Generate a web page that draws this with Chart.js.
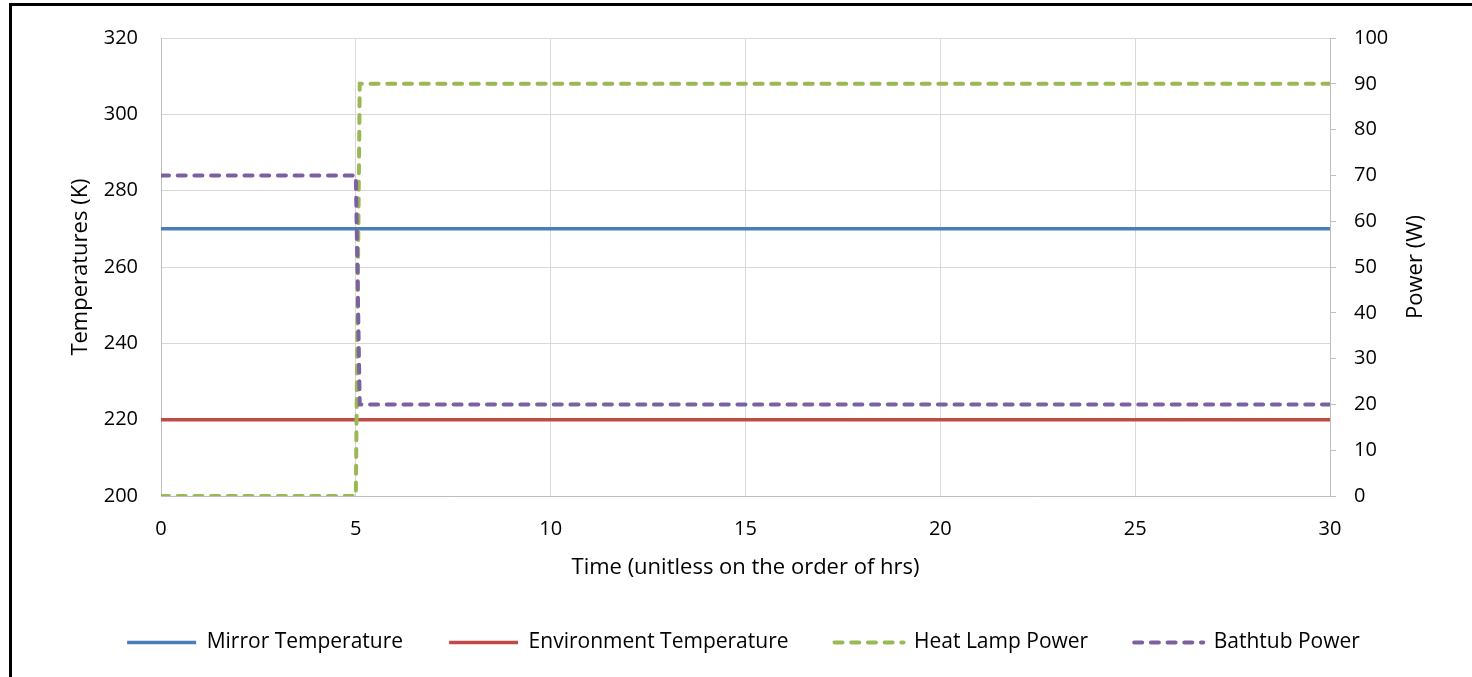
<!DOCTYPE html>
<html>
<head>
<meta charset="utf-8">
<script src="https://cdn.jsdelivr.net/npm/chart.js@4/dist/chart.umd.min.js"></script>
<style>
  html, body { margin: 0; padding: 0; background: #fff; overflow: hidden; }
  #frame { position: absolute; left: 9px; top: 3px; width: 1500px; height: 720px; border: 3px solid #000; }
  #wrap { position: absolute; left: 0; top: 0; width: 1472px; height: 677px; }
</style>
</head>
<body>
<div id="frame"></div>
<div id="wrap"><canvas id="chart"></canvas></div>
<script>
// time steps (unitless, order of hrs)
const timeHrs = [0, 5, 5.1, 30];
const mirrorTemp = [270, 270, 270, 270];
const envTemp = [220, 220, 220, 220];
const heatLampPower = [0, 0, 90, 90];
const bathtubPower = [70, 70, 20, 20];

const xTitle = 'Time (unitless on the order of hrs)';
const yLeftTitle = 'Temperatures (K)';
const yRightTitle = 'Power (W)';

const tickFont = { family: "'Open Sans', sans-serif", size: 20 };
const titleFont = { family: "'Open Sans', sans-serif", size: 22 };
const legendFont = { family: "'Open Sans', sans-serif", size: 21 };
const gridColor = '#D9D9D9';
const axisColor = '#BFBFBF';
const dash = [8, 8.7];

function pts(ys) {
  return timeHrs.map((t, i) => ({ x: t, y: ys[i] }));
}

// right axis title reads bottom-to-top, like the left one
const rightTitle = {
  id: 'rightTitle',
  afterDraw(chart) {
    const s = chart.scales.y1;
    const c = chart.ctx;
    c.save();
    c.translate(s.right - 11, (s.top + s.bottom) / 2);
    c.rotate(-Math.PI / 2);
    c.font = `${titleFont.size}px ${titleFont.family}`;
    c.fillStyle = '#000';
    c.textAlign = 'center';
    c.textBaseline = 'middle';
    c.fillText(yRightTitle, 0, 0);
    c.restore();
  }
};

const ctx = document.getElementById('chart').getContext('2d');
new Chart(ctx, {
  type: 'line',
  data: {
    datasets: [
      { label: 'Mirror Temperature', data: pts(mirrorTemp), yAxisID: 'y', borderColor: '#4A7EBB', borderWidth: 3.5, order: 4 },
      { label: 'Environment Temperature', data: pts(envTemp), yAxisID: 'y', borderColor: '#BE4B48', borderWidth: 3.5, order: 3 },
      { label: 'Heat Lamp Power', data: pts(heatLampPower), yAxisID: 'y1', borderColor: '#98B954', borderWidth: 4, borderDash: dash, borderCapStyle: 'round', order: 2 },
      { label: 'Bathtub Power', data: pts(bathtubPower), yAxisID: 'y1', borderColor: '#7D60A0', borderWidth: 4, borderDash: dash, borderCapStyle: 'round', order: 1 }
    ]
  },
  options: {
    responsive: true,
    maintainAspectRatio: false,
    devicePixelRatio: 1,
    animation: false,
    elements: { point: { radius: 0 }, line: { tension: 0, fill: false } },
    layout: { padding: { left: 60, right: 45, top: 38, bottom: 14 } },
    plugins: {
      tooltip: { enabled: false },
      legend: {
        position: 'bottom',
        labels: {
          usePointStyle: true,
          pointStyle: 'line',
          pointStyleWidth: 69,
          boxHeight: 18,
          padding: 46,
          color: '#000',
          font: legendFont,
          generateLabels: chart => chart.data.datasets.map((ds, i) => ({
            text: ds.label,
            datasetIndex: i,
            strokeStyle: ds.borderColor,
            fillStyle: ds.borderColor,
            lineWidth: ds.borderWidth,
            lineDash: ds.borderDash || [],
            lineCap: ds.borderCapStyle || 'butt',
            pointStyle: 'line',
            fontColor: '#000',
            hidden: false
          }))
        }
      }
    },
    scales: {
      x: {
        type: 'linear',
        min: 0, max: 30,
        ticks: { stepSize: 5, color: '#000', font: tickFont, padding: 21, maxRotation: 0 },
        grid: { color: gridColor, drawTicks: false },
        border: { color: axisColor },
        title: { display: true, text: xTitle, color: '#000', font: titleFont, padding: { top: 0, bottom: 5 } },
        afterFit: s => { s.height = 90; }
      },
      y: {
        position: 'left',
        min: 200, max: 320,
        ticks: { stepSize: 20, color: '#000', font: tickFont, padding: 23 },
        grid: { color: gridColor, drawTicks: false },
        border: { color: axisColor },
        title: { display: true, text: yLeftTitle, color: '#000', font: titleFont, padding: { top: 8, bottom: 0 } },
        afterFit: s => { s.width = 101; }
      },
      y1: {
        position: 'right',
        min: 0, max: 100,
        ticks: { stepSize: 10, color: '#000', font: tickFont, padding: 18 },
        grid: { drawOnChartArea: false, color: axisColor, tickLength: 6 },
        border: { color: axisColor },
        afterFit: s => { s.width = 97; }
      }
    }
  },
  plugins: [rightTitle]
});
</script>
</body>
</html>
